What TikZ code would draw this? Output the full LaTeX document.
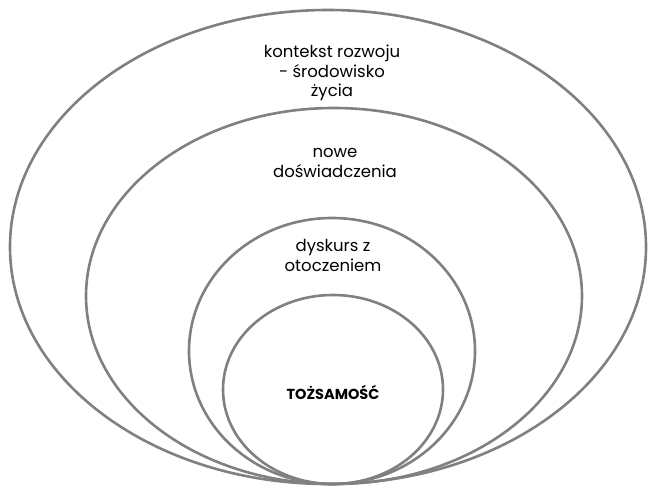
\documentclass[tikz,border=0pt]{standalone}
\usepackage{fontspec}
\setmainfont{Poppins}
\usetikzlibrary{shapes.geometric}
\tikzset{
  ring/.style={draw=ringgray, line width=2.6pt, ellipse, inner sep=0pt, fill=none},
  lbl/.style={align=center, font=\fontsize{16.5}{19.5}\selectfont, text=black, inner sep=0pt},
}
\definecolor{ringgray}{RGB}{128,128,128}
\begin{document}
\begin{tikzpicture}[x=1pt,y=-1pt]
\useasboundingbox (0,0) rectangle (648,486);
\fill[white] (0,0) rectangle (648,486);
\node[ring, minimum width=636pt, minimum height=474pt] (outer) at (328,247) {};
\node[ring, minimum width=496pt, minimum height=376pt] (second) at (334,296) {};
\node[ring, minimum width=286pt, minimum height=266pt] (third) at (332,351) {};
\node[ring, minimum width=220pt, minimum height=189pt] (inner) at (333,389.5) {};
\node[lbl] (t1) at (332,73) {kontekst rozwoju\\- środowisko\\życia};
\node[lbl] (t2) at (335,163) {nowe\\doświadczenia};
\node[lbl] (t3) at (333,255.5) {dyskurs z\\otoczeniem};
\node[lbl, font=\fontsize{14.5}{19.5}\selectfont\bfseries] (t4) at (333,392) {TOŻSAMOŚĆ};
\end{tikzpicture}
\end{document}
